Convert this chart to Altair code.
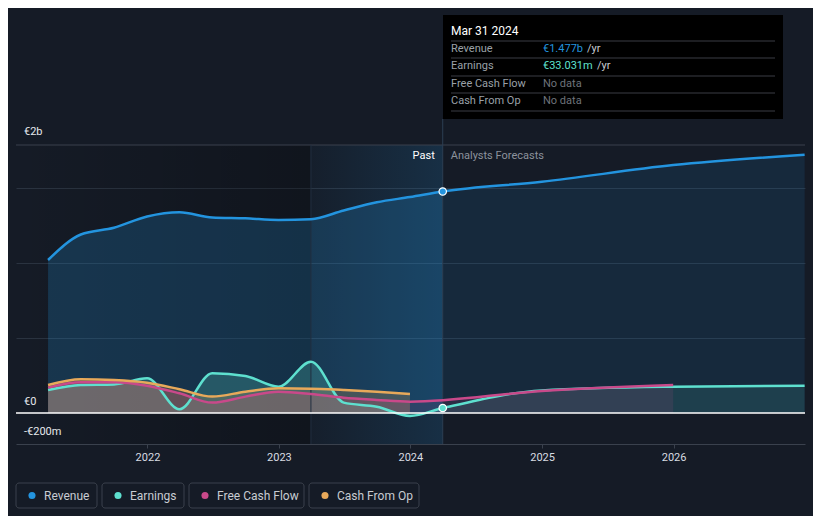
import altair as alt
import pandas as pd

BG = "#151b26"
REV_C = "#2394df"
EARN_C = "#5ee0cf"
FCF_C = "#c9498a"
CFO_C = "#e8a95a"

# ---- data (millions of EUR) ----
past_q = ["2021-03-31", "2021-06-30", "2021-09-30", "2021-12-31", "2022-03-31",
          "2022-06-30", "2022-09-30", "2022-12-31", "2023-03-31", "2023-06-30",
          "2023-09-30", "2023-12-31", "2024-03-31"]
fc_dates = ["2024-12-31", "2025-12-31", "2026-12-31"]

rev_past = [1020, 1190, 1235, 1310, 1338, 1304, 1298, 1287, 1292, 1350, 1405, 1440, 1477]
rev_fc = [1542, 1653, 1722]

earn_past = [153, 187, 190, 231, 25, 265, 247, 175, 342, 69, 42, -20, 33]
earn_fc = [150, 175, 182]

fcf_past_dates = past_q[:12]
fcf_past = [169, 205, 205, 182, 131, 69, 109, 142, 127, 102, 87, 75]
fcf_fc_dates = ["2024-12-31", "2025-12-31"]
fcf_fc = [147, 187]

cfo_past_dates = past_q[:12]
cfo_past = [187, 225, 220, 202, 158, 109, 142, 164, 162, 153, 142, 127]

series_names = ["Revenue", "Earnings", "Free Cash Flow", "Cash From Op"]
series_colors = [REV_C, EARN_C, FCF_C, CFO_C]

rows = []
def add(series, dates, vals, phase):
    for d, v in zip(dates, vals):
        rows.append({"date": d, "value": v, "series": series, "phase": phase})

add("Revenue", past_q, rev_past, "past")
add("Revenue", past_q[-1:] + fc_dates, rev_past[-1:] + rev_fc, "fc")
add("Earnings", past_q, earn_past, "past")
add("Earnings", past_q[-1:] + fc_dates, earn_past[-1:] + earn_fc, "fc")
add("Free Cash Flow", fcf_past_dates, fcf_past, "past")
add("Free Cash Flow", fcf_past_dates[-1:] + fcf_fc_dates, fcf_past[-1:] + fcf_fc, "fc")
add("Cash From Op", cfo_past_dates, cfo_past, "past")
df = pd.DataFrame(rows)
df["date"] = pd.to_datetime(df["date"])
df["key"] = df["series"] + "|" + df["phase"]

lines_df = df.drop_duplicates(subset=["series", "date"]).copy()

pts_df = pd.DataFrame({"date": pd.to_datetime(["2024-03-31", "2024-03-31"]),
                       "value": [rev_past[-1], earn_past[-1]],
                       "series": ["Revenue", "Earnings"]})

regions = pd.DataFrame({"start": pd.to_datetime(["2021-01-01", "2023-03-31"]),
                        "end": pd.to_datetime(["2023-03-31", "2024-03-31"]),
                        "name": ["dark", "hl"]})

xscale = alt.Scale(domain=[alt.DateTime(year=2021, month=1, date=1),
                           alt.DateTime(year=2027, month=1, date=1)])
yscale = alt.Scale(domain=[-207, 1787], nice=False, zero=False)

x_axis = alt.Axis(values=[alt.DateTime(year=y, month=1, date=1) for y in range(2022, 2027)],
                  format="%Y", title=None, grid=False, labelColor="#d8dce2",
                  labelFontSize=11, labelPadding=3, domainColor="#3a414d",
                  tickColor="#3a414d", tickSize=4, labelFont="Roboto")
y_axis = alt.Axis(values=[500, 1000, 1500], grid=True, gridColor="#2a3340",
                  labels=False, ticks=False, domain=False, title=None)

X = alt.X("date:T", scale=xscale, axis=x_axis)
Y = alt.Y("value:Q", scale=yscale, axis=y_axis)
color = alt.Color("series:N", scale=alt.Scale(domain=series_names, range=series_colors), legend=None)

dark_rect = alt.Chart(regions[regions.name == "dark"]).mark_rect(
    fill=alt.Gradient(gradient="linear", x1=0, x2=1, y1=0, y2=0,
                      stops=[alt.GradientStop(offset=0, color="rgba(0,0,0,0)"),
                             alt.GradientStop(offset=1, color="rgba(0,0,0,0.24)")])
).encode(x=alt.X("start:T", scale=xscale, axis=x_axis), x2="end:T",
         y=alt.value(0), y2=alt.value(299))

hl_rect = alt.Chart(regions[regions.name == "hl"]).mark_rect(
    fill=alt.Gradient(gradient="linear", x1=0, x2=1, y1=0, y2=0,
                      stops=[alt.GradientStop(offset=0, color="rgba(35,148,223,0.03)"),
                             alt.GradientStop(offset=1, color="rgba(35,148,223,0.17)")])
).encode(x="start:T", x2="end:T", y=alt.value(0), y2=alt.value(299))

areas = alt.Chart(df).mark_area(interpolate="monotone").encode(
    x=X, y=Y, y2=alt.datum(0), color=color, detail="key:N",
    opacity=alt.Opacity("phase:N", scale=alt.Scale(domain=["past", "fc"], range=[0.22, 0.12]), legend=None),
)

top_rule = alt.Chart(pd.DataFrame({"v": [1787]})).mark_rule(color="#3a414d", strokeWidth=1).encode(
    y=alt.Y("v:Q", scale=yscale, axis=y_axis))

lines = alt.Chart(lines_df).mark_line(interpolate="monotone", strokeWidth=2.5).encode(
    x=X, y=Y, color=color, detail="series:N",
    order=alt.Order("date:T"))

zero_rule = alt.Chart(pd.DataFrame({"v": [0]})).mark_rule(color="#ffffff", strokeWidth=1.5).encode(
    y=alt.Y("v:Q", scale=yscale, axis=y_axis))

vline_df = pd.DataFrame({"date": pd.to_datetime(["2024-03-31"])})
vline = alt.Chart(vline_df).mark_rule(color="#2c3e52", strokeWidth=1).encode(
    x=X, y=alt.value(-26), y2=alt.value(299))
vline2_df = pd.DataFrame({"date": pd.to_datetime(["2023-03-31"])})
vline2 = alt.Chart(vline2_df).mark_rule(color="#223040", strokeWidth=1).encode(
    x=X, y=alt.value(0), y2=alt.value(299))

points = alt.Chart(pts_df).mark_point(filled=True, size=55, stroke="#ffffff", strokeWidth=1.2, opacity=1).encode(
    x=X, y=Y, fill=alt.Fill("series:N", scale=alt.Scale(domain=series_names, range=series_colors), legend=None))

past_txt = alt.Chart(vline_df).mark_text(text="Past", align="right", dx=-8, color="#ffffff",
                                          fontSize=11, baseline="middle").encode(x=X, y=alt.value(11))
fc_txt = alt.Chart(vline_df).mark_text(text="Analysts Forecasts", align="left", dx=8, color="#8c929c",
                                        fontSize=11, baseline="middle").encode(x=X, y=alt.value(11))

one = pd.DataFrame({"a": [0]})
def txt(t, x, y, color, size=11, align="left", weight="normal"):
    return alt.Chart(one).mark_text(text=t, align=align, baseline="middle", color=color,
                                    fontSize=size, fontWeight=weight).encode(
        x=alt.value(x), y=alt.value(y))

def rect(x1, x2, y1, y2, fill, stroke=None, radius=0):
    kw = dict(fill=fill, cornerRadius=radius)
    if stroke:
        kw["stroke"] = stroke
        kw["strokeWidth"] = 1
    return alt.Chart(one).mark_rect(**kw).encode(
        x=alt.value(x1), x2=alt.value(x2), y=alt.value(y1), y2=alt.value(y2))

def hrule(x1, x2, y, color):
    return alt.Chart(one).mark_rule(color=color, strokeWidth=1).encode(
        x=alt.value(x1), x2=alt.value(x2), y=alt.value(y))

ylabels = [txt("€2b", 8, -13, "#e6e8ec"), txt("€0", 8, 257, "#e6e8ec"), txt("-€200m", 8, 287, "#e6e8ec")]

# tooltip box
tip = [rect(427, 767, -130, -26, "#000000")]
for yy in [-104, -87, -69, -52, -34]:
    tip.append(hrule(435, 759, yy, "#3a3d44"))
tip += [
    txt("Mar 31 2024", 435, -114, "#ffffff", 12),
    txt("Revenue", 435, -96, "#9aa0a8"),
    txt("Earnings", 435, -79, "#9aa0a8"),
    txt("Free Cash Flow", 435, -61, "#9aa0a8"),
    txt("Cash From Op", 435, -44, "#9aa0a8"),
    txt("€1.477b", 527, -96, REV_C),
    txt("/yr", 571, -96, "#c8ccd2"),
    txt("€33.031m", 527, -79, EARN_C),
    txt("/yr", 581, -79, "#c8ccd2"),
    txt("No data", 527, -61, "#6e737b"),
    txt("No data", 527, -44, "#6e737b"),
]

# legend
leg = []
boxes = [(0, 81), (86, 168), (173, 288), (293, 403)]
for (x1, x2), name, col in zip(boxes, series_names, series_colors):
    leg.append(rect(x1, x2, 338, 363, BG, stroke="#3b414c", radius=3))
    leg.append(alt.Chart(one).mark_point(filled=True, size=50, color=col, opacity=1).encode(
        x=alt.value(x1 + 16), y=alt.value(350.5)))
    leg.append(txt(name, x1 + 28, 350.5, "#c8ccd2", 12))

chart = alt.layer(
    dark_rect, hl_rect, areas, top_rule, vline2, vline, lines, zero_rule, points,
    past_txt, fc_txt, *ylabels, *tip, *leg
).properties(
    width=789, height=299,
    padding={"left": 8, "top": 137, "right": 8, "bottom": 72},
    autosize=alt.AutoSizeParams(type="none"),
    background=BG,
    view=alt.ViewBackground(stroke="transparent", strokeWidth=0),
).configure_view(stroke="transparent", strokeWidth=0).configure(font="Roboto")

chart.save("out.html", embed_options={"renderer": "svg", "actions": False})
